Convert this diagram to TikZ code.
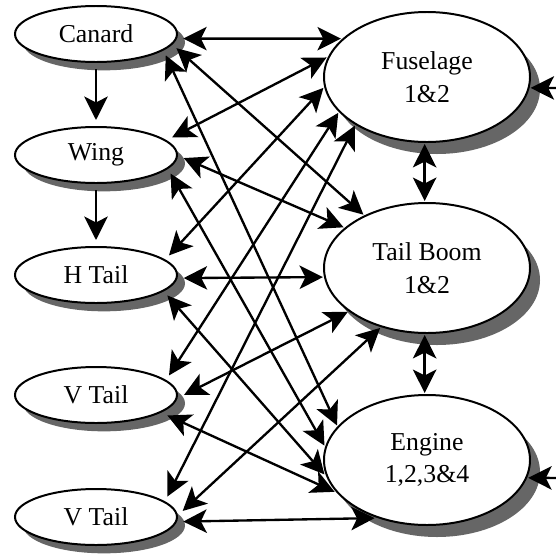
\documentclass[tikz,border=0pt]{standalone}
\usepackage{fontspec}
\setmainfont{Liberation Serif}
\usetikzlibrary{arrows.meta,shapes.geometric,shadows}

\begin{document}
\begin{tikzpicture}[x=0.03cm, y=-0.03cm,
  >={Stealth[length=20pt,width=20pt,inset=5pt]},
  blob/.style={ellipse, draw, line width=1.7pt, fill=white, inner sep=0pt,
    font=\fontsize{22}{28}\selectfont},
  part/.style={blob, minimum width=4.86cm, minimum height=1.68cm, outer sep=0.21cm,
    drop shadow={shadow xshift=0.24cm, shadow yshift=-0.25cm, fill=black!60, opacity=1}},
  group/.style={blob, align=center, minimum width=6.18cm, minimum height=3.9cm, outer sep=0.06cm,
    drop shadow={shadow xshift=0.3cm, shadow yshift=-0.36cm, fill=black!60, opacity=1}},
  link/.style={line width=2pt, <->},
  feed/.style={line width=2pt, ->}]

\useasboundingbox (0,0) rectangle (556,554);

\node[part] (canard) at (96,34) {Canard};
\node[part] (wing) at (96,155) {Wing};
\node[part] (htail) at (96,275) {H Tail};
\node[part] (vtail) at (96,395) {V Tail};
\node[part] (vtailb) at (96,517) {V Tail};

\node[group] (fuse) at (427,77) {Fuselage\\1\&2};
\node[group] (boom) at (427,268) {Tail Boom\\1\&2};
\node[group] (engine) at (427,460) {Engine\\1,2,3\&4};

\coordinate (fuse-in) at (575,88);
\coordinate (engine-in) at (575,478);

\draw[feed] (canard) -- (wing);
\draw[feed] (wing) -- (htail);

\draw[link] (canard.-3) -- (fuse.156);
\draw[link] (canard.-10) -- (boom.140);
\draw[link] (canard.-17) -- (engine.159);
\draw[link] (wing.13) -- (fuse.169);
\draw[link] (wing.-2) -- (boom.154);
\draw[link] (wing.-14) -- (engine.172);
\draw[link] (htail.15) -- (fuse.186);
\draw[link] (htail.-2) -- (boom.185);
\draw[link] (htail.-16) -- (engine.188);
\draw[link] (vtail.15) -- (fuse.202);
\draw[link] (vtail.0) -- (boom.209);
\draw[link] (vtail.-16) -- (engine.199);
\draw[link] (vtailb.16) -- (fuse.214);
\draw[link] (vtailb.4) -- (boom.232);
\draw[link] (vtailb.-3) -- (engine.228);

\draw[link] (fuse.268) -- (boom.92);
\draw[link] (boom.268) -- (engine.92);

\draw[feed] (fuse-in) -- (fuse.-6);
\draw[feed] (engine-in) -- (engine.-10);
\end{tikzpicture}
\end{document}
